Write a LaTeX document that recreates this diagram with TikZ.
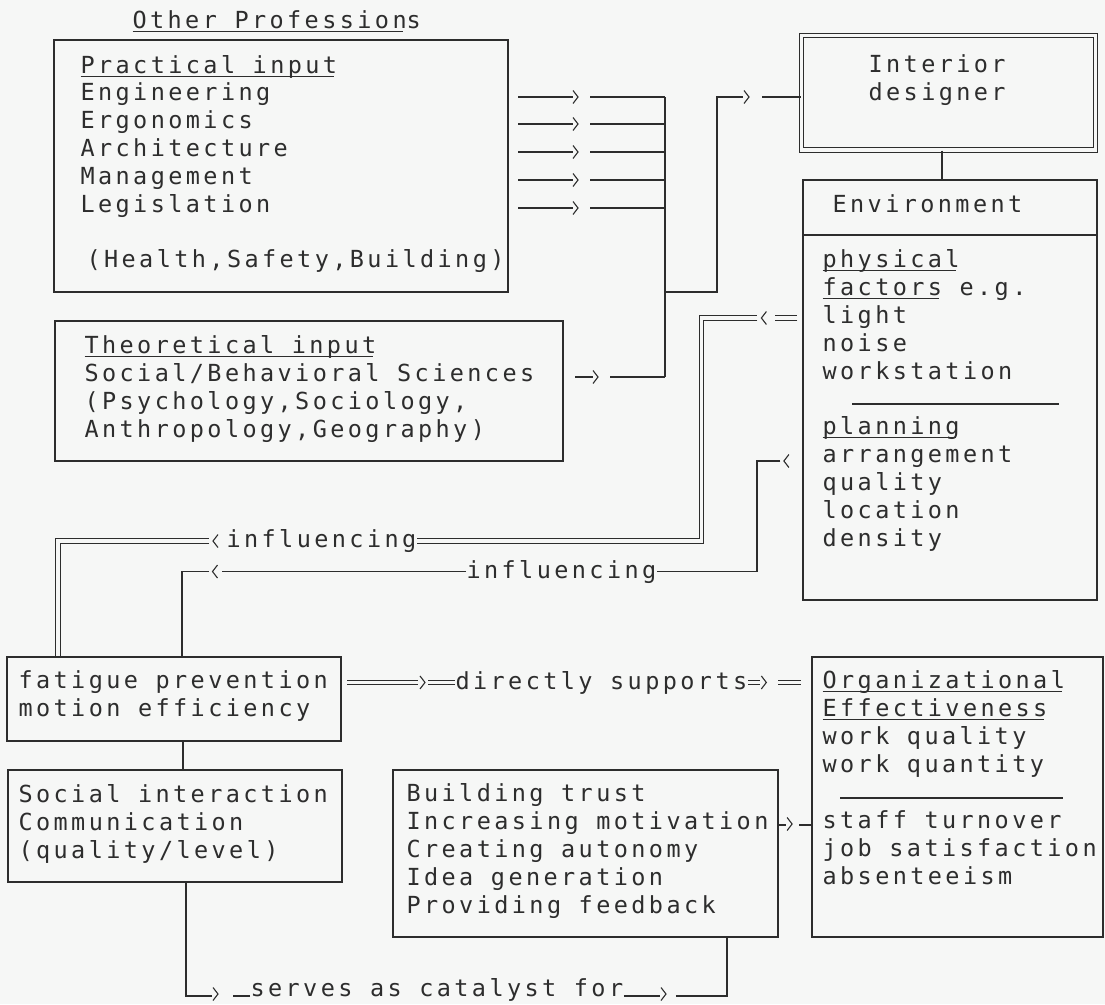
\documentclass[tikz,border=0pt]{standalone}
\usepackage{fontspec}
\newfontfamily\monofont[LetterSpace=14.5]{DejaVu Sans Mono}
\usetikzlibrary{calc}
\definecolor{ink}{RGB}{45,45,45}
\definecolor{paper}{RGB}{246,247,246}
\newcommand\myul[1]{\setbox0\hbox{#1}\rlap{\rule[-4pt]{\dimexpr\wd0-3.4pt\relax}{1.1pt}}\box0\relax}
\tikzset{
  box/.style={draw, rectangle, inner sep=0pt, line width=1.2pt},
  txt/.style={anchor=base west, inner sep=0pt, font=\monofont\fontsize{23.5}{28}\selectfont},
  dbl/.style={double=paper, double distance=3.4pt, line width=1pt},
  chR/.pic={\draw[line width=1.1pt] (-2.5,-6.5) -- (2.5,0) -- (-2.5,6.5);},
  chL/.pic={\draw[line width=1.1pt] (2.5,-6.5) -- (-2.5,0) -- (2.5,6.5);}
}
\begin{document}
\begin{tikzpicture}[x=1pt, y=-1pt, color=ink, line width=1.2pt]
\fill[paper] (0,0) rectangle (1105,1004);
\useasboundingbox (0,0) rectangle (1105,1004);

% ---------- boxes ----------
\node[box, minimum width=454pt, minimum height=252pt] (prac) at (281,166) {};
\node[box, minimum width=508pt, minimum height=140pt] (theo) at (309,391) {};
\node[box, double=paper, double distance=3.4pt, line width=1pt, minimum width=294pt, minimum height=114.5pt] (int) at (948.5,92.75) {};
\node[box, minimum width=294pt, minimum height=420pt] (env) at (950,390) {};
\node[box, minimum width=334pt, minimum height=84pt] (fat) at (174,699) {};
\node[box, minimum width=334pt, minimum height=112pt] (soc) at (175,826) {};
\node[box, minimum width=385pt, minimum height=167pt] (bld) at (585.5,853.5) {};
\node[box, minimum width=291pt, minimum height=280pt] (org) at (957.5,797) {};

% inner rules
\draw (803,235) -- (1097,235);
\draw (852,404) -- (1059,404);
\draw (840,798) -- (1063,798);

% ---------- texts ----------
\node[txt] (title) at (132,28) {\myul{Other Profession}s};

\node[txt] (p0) at (80,73) {\myul{Practical input}};
\node[txt] (p1) at (80,100.8) {Engineering};
\node[txt] (p2) at (80,128.6) {Ergonomics};
\node[txt] (p3) at (80,156.4) {Architecture};
\node[txt] (p4) at (80,184.2) {Management};
\node[txt] (p5) at (80,212) {Legislation};
\node[txt] (p6) at (86,267) {(Health,Safety,Building)};

\node[txt] (t0) at (84,353) {\myul{Theoretical input}};
\node[txt] (t1) at (84,381) {Social/Behavioral Sciences};
\node[txt] (t2) at (84,409) {(Psychology,Sociology,};
\node[txt] (t3) at (84,437) {Anthropology,Geography)};

\node[txt] (i1) at (868,72) {Interior};
\node[txt] (i2) at (868,100) {designer};

\node[txt] (e0) at (832,212) {Environment};
\node[txt] (e1) at (822,267) {\myul{physical}};
\node[txt] (e2) at (822,295) {\myul{factors} e.g.};
\node[txt] (e3) at (822,323) {light};
\node[txt] (e4) at (822,351) {noise};
\node[txt] (e5) at (822,379) {workstation};
\node[txt] (e6) at (822,434) {\myul{planning}};
\node[txt] (e7) at (822,462) {arrangement};
\node[txt] (e8) at (822,490) {quality};
\node[txt] (e9) at (822,518) {location};
\node[txt] (e10) at (822,546) {density};

\node[txt] (f1) at (18,688) {fatigue prevention};
\node[txt] (f2) at (18,716) {motion efficiency};

\node[txt] (s1) at (18,802) {Social interaction};
\node[txt] (s2) at (18,830) {Communication};
\node[txt] (s3) at (18,858) {(quality/level)};

\node[txt] (b1) at (406,801) {Building trust};
\node[txt] (b2) at (406,829) {Increasing motivation};
\node[txt] (b3) at (406,857) {Creating autonomy};
\node[txt] (b4) at (406,885) {Idea generation};
\node[txt] (b5) at (406,913) {Providing feedback};

\node[txt] (o1) at (822,688) {\myul{Organizational}};
\node[txt] (o2) at (822,716) {\myul{Effectiveness}};
\node[txt] (o3) at (822,744) {work quality};
\node[txt] (o4) at (822,772) {work quantity};
\node[txt] (o5) at (822,828) {staff turnover};
\node[txt] (o6) at (822,856) {job satisfaction};
\node[txt] (o7) at (822,884) {absenteeism};

% connector labels
\node[txt] (infl1) at (226,547.5) {influencing};
\node[txt] (infl2) at (466,578) {influencing};
\node[txt] (ds) at (455,689) {directly supports};
\node[txt] (sv) at (250,996) {serves as catalyst for};

% ---------- connectors ----------
\coordinate (bus) at (665,377);
\foreach \i/\yy in {1/97,2/124,3/152,4/180,5/208}{
  \coordinate (pa\i) at (518,\yy);
  \draw (pa\i) -- ++(55,0);
  \pic at ($(pa\i)+(57.5,0)$) {chR};
  \draw ($(pa\i)+(72,0)$) -- (pa\i -| bus);
}
\draw (pa1 -| bus) -- (bus);
\coordinate (ta) at (575,377);
\draw (ta) -- ++(18,0);
\pic at ($(ta)+(20.5,0)$) {chR};
\draw ($(ta)+(35,0)$) -- (bus);

\coordinate (jn) at (665,292);
\coordinate (jr) at (717,97);
\draw (jn) -| (jr) -- ++(26,0);
\pic at ($(jr)+(29.5,0)$) {chR};
\draw ($(jr)+(45,0)$) -- (int.west |- jr);

\coordinate (ie) at (942,0);
\draw (int.south -| ie) -- (env.north -| ie);

% double influencing line
\coordinate (dk) at (701.5,318);
\draw[dbl] ($(env.west |- dk)+(-5,0)$) -- ($(env.west |- dk)+(-27,0)$);
\pic at ($(env.west |- dk)+(-38.5,0)$) {chL};
\draw[dbl] ($(env.west |- dk)+(-45,0)$) -- (dk) |- (infl1.east);
\pic at ($(infl1.west)+(-10.5,0)$) {chL};
\coordinate (dl) at (58,0);
\draw[dbl] ($(infl1.west)+(-17,0)$) -| (fat.north -| dl);

% single influencing line
\coordinate (sk) at (757,461);
\draw ($(env.west |- sk)+(-22,0)$) -- (sk) |- (infl2.east);
\pic at ($(env.west |- sk)+(-16,0)$) {chL};
\draw (infl2.west) -- ($(infl2.west)+(-244,0)$);
\pic at ($(infl2.west)+(-251,0)$) {chL};
\coordinate (sl) at (182,0);
\draw ($(infl2.west)+(-257,0)$) -| (fat.north -| sl);

% directly supports
\draw[dbl] (ds.west) -- ($(ds.west)+(-27,0)$);
\pic at ($(ds.west)+(-32.5,0)$) {chR};
\draw[dbl] ($(ds.west)+(-37,0)$) -- ($(ds.west -| fat.east)+(5,0)$);
\draw[dbl] (ds.east) -- ($(ds.east)+(12,0)$);
\pic at ($(ds.east)+(16,0)$) {chR};
\draw[dbl] ($(ds.east -| org.west)+(-33,0)$) -- ($(ds.east -| org.west)+(-10,0)$);

% fatigue -> social
\coordinate (fs) at (183,0);
\draw (fat.south -| fs) -- (soc.north -| fs);

% serves as catalyst for
\coordinate (sx) at (186,0);
\coordinate (bx) at (727,0);
\draw (sv.base west) -- ($(sv.base west)+(-17,0)$);
\pic at ($(sv.base west)+(-34.5,-2)$) {chR};
\draw ($(sv.base west)+(-38,0)$) -| (soc.south -| sx);
\draw (sv.base east) -- ($(sv.base east)+(36,0)$);
\pic at ($(sv.base east)+(39.7,-2)$) {chR};
\draw ($(sv.base east)+(52,0)$) -| (bld.south -| bx);

% building -> organizational
\coordinate (mv) at (0,825);
\draw (bld.east |- mv) -- ($(bld.east |- mv)+(7,0)$);
\pic at ($(bld.east |- mv)+(11,-1)$) {chR};
\draw ($(org.west |- mv)+(-12,0)$) -- (org.west |- mv);
\end{tikzpicture}
\end{document}
